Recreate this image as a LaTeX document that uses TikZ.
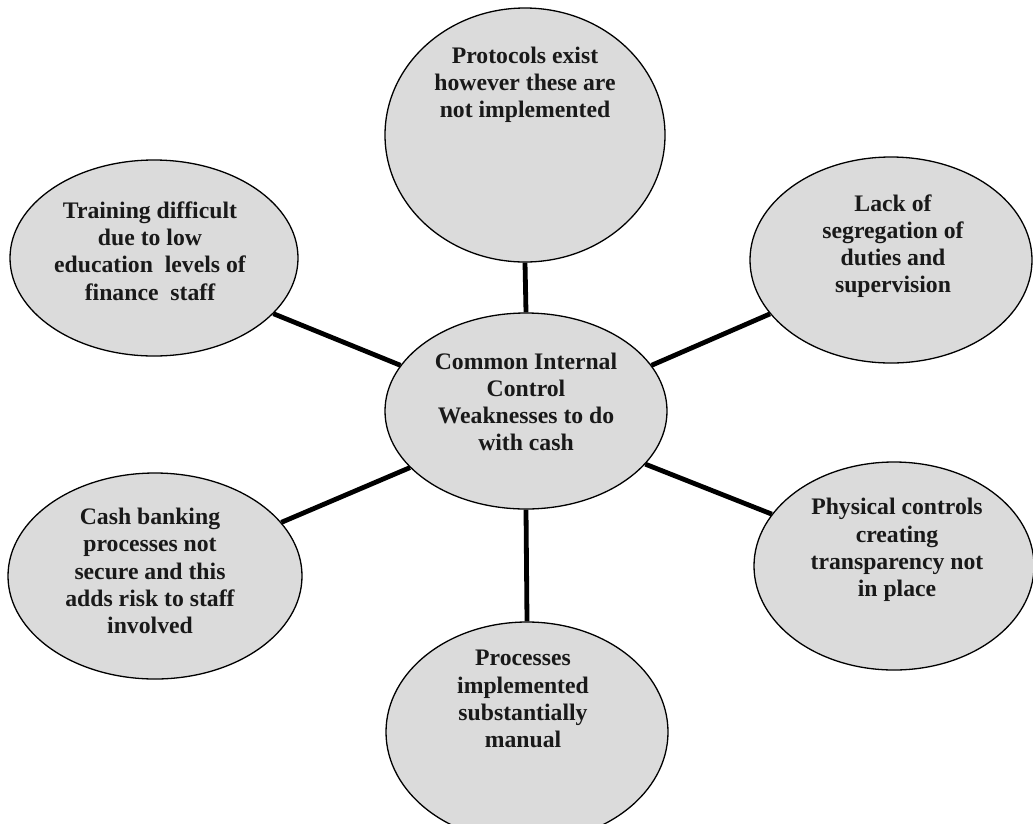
\documentclass[tikz,border=0pt]{standalone}
\usepackage{fontspec}
\setmainfont{Liberation Serif}
\usetikzlibrary{shapes.geometric}
\begin{document}
\begin{tikzpicture}[x=1pt,y=-1pt,
  bub/.style={ellipse, draw=black, line width=1.3pt, fill=black!14, inner sep=0pt},
  txt/.style={font=\bfseries\fontsize{23.7}{27.2}\selectfont, align=center, inner sep=0pt, text=black!90},
  link/.style={line width=4.8pt}]
\useasboundingbox (0,0) rectangle (1033,823);

\node[bub, minimum width=282pt, minimum height=196pt,
  label={[txt, yshift=9pt]center:{Common Internal\\Control\\Weaknesses to do\\with cash}}] (c) at (526,411) {};

\node[bub, minimum width=280pt, minimum height=254pt,
  label={[txt, yshift=50pt]center:{Protocols exist\\however these are\\not implemented}}] (top) at (525,135) {};

\node[bub, minimum width=288pt, minimum height=196pt,
  label={[txt, yshift=7pt, xshift=-4pt]center:{Training difficult\\due to low\\education\ \ levels of\\finance\ \ staff}}] (lu) at (154,258) {};

\node[bub, minimum width=282pt, minimum height=206pt,
  label={[txt, yshift=14pt, xshift=2pt]center:{Lack of\\segregation of\\duties and\\supervision}}] (ru) at (891,260) {};

\node[bub, minimum width=294pt, minimum height=206pt,
  label={[txt, yshift=5pt, xshift=-5pt]center:{Cash banking\\processes not\\secure and this\\adds risk to staff\\involved}}] (ll) at (155,576) {};

\node[bub, minimum width=280pt, minimum height=208pt,
  label={[txt, yshift=16pt, xshift=3pt]center:{Physical controls\\creating\\transparency not\\in place}}] (rl) at (894,566) {};

\node[bub, minimum width=282pt, minimum height=220pt,
  label={[txt, yshift=33pt, xshift=-4pt]center:{Processes\\implemented\\substantially\\manual}}] (bot) at (527,732) {};

\draw[link] (c.north) -- (top.south);
\draw[link] (c.south) -- (bot.north);
\draw[link] (c.160.5) -- (lu.-25.8);
\draw[link] (c.206.4) -- (ll.23.8);
\draw[link] (c.20.7) -- (ru.204);
\draw[link] (c.-24.7) -- (rl.157.5);
\end{tikzpicture}
\end{document}
